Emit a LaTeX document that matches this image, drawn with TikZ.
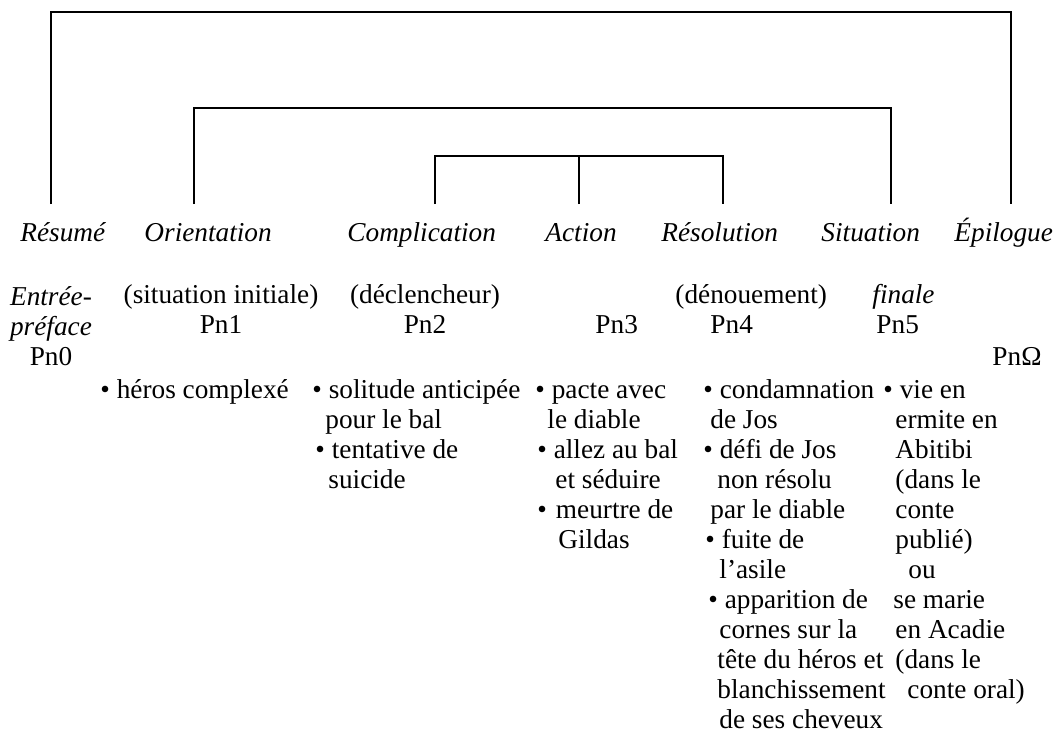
\documentclass[tikz,border=0pt]{standalone}
\usepackage{fontspec}
\setmainfont{Liberation Serif}
\usetikzlibrary{positioning}
\newlength\pxu
\setlength\pxu{0.44pt}

\begin{document}
\begin{tikzpicture}[x=0.44pt,y=-0.44pt,font=\fontsize{12}{13.2}\selectfont,
  lab/.style={inner sep=0pt,anchor=base west,font=\fontsize{12}{13.2}\selectfont\itshape},
  txt/.style={inner sep=0pt,anchor=base west,align=left},
  mid/.style={inner sep=0pt,anchor=base,align=center},
  bar/.style={draw=black,line width=0.75pt}]
\useasboundingbox (0,0) rectangle (1055,740);
\node[lab] (res) at (20,241) {Résumé};
\node[lab] (ori) at (144,241) {Orientation};
\node[lab] (com) at (347,241) {Complication};
\node[lab] (act) at (545,241) {Action};
\node[lab] (sol) at (661,241) {Résolution};
\node[lab] (sit) at (821,241) {Situation};
\node[lab] (epi) at (954,241) {Épilogue};
\coordinate (fres) at (50.7,204);
\coordinate (fori) at (194.3,204);
\coordinate (fcom) at (435,204);
\coordinate (fact) at (578.7,204);
\coordinate (fsol) at (723.3,204);
\coordinate (fsit) at (890.7,204);
\coordinate (fepi) at (1010.7,204);
\coordinate (t1) at (0,12.3);
\coordinate (t2) at (0,108.3);
\coordinate (t3) at (0,156);
\draw[bar] (fres) -- (fres |- t1) -- (fepi |- t1) -- (fepi);
\draw[bar] (fori) -- (fori |- t2) -- (fsit |- t2) -- (fsit);
\draw[bar] (fcom) -- (fcom |- t3) -- (fsol |- t3) -- (fsol);
\draw[bar] (fact) -- (fact |- t3);
\node[mid] (pn0) at (51,365) {\textit{Entrée-}\\\textit{préface}\\Pn0};
\node[mid] (pn1) at (221,333) {(situation initiale)\\Pn1};
\node[mid] (pn2) at (425,333) {(déclencheur)\\Pn2};
\node[txt] (pn3) at (595,333) {Pn3};
\node[txt] (den) at (675,303) {(dénouement)};
\node[txt] (pn4) at (710,333) {Pn4};
\node[txt] (fin) at (872,303) {\textit{finale}};
\node[txt] (pn5) at (876,333) {Pn5};
\node[txt] (pnw) at (992,365) {PnΩ};
\node[txt] (la) at (100,398) {• héros complexé};
\node[txt] (lb) at (312,488) {• solitude anticipée\\
  \hspace*{13\pxu}pour le bal\\
  \hspace*{3\pxu}• tentative de\\
  \hspace*{16\pxu}suicide};
\node[txt] (lc) at (535,548) {• pacte avec\\
  \hspace*{12\pxu}le diable\\
  \hspace*{2\pxu}• allez au bal\\
  \hspace*{20\pxu}et séduire\\
  \hspace*{2\pxu}•\hspace{9\pxu}meurtre de\\
  \hspace*{23\pxu}Gildas};
\node[txt] (ld) at (703,728) {• condamnation\\
  \hspace*{7\pxu}de Jos\\
  • défi de Jos\\
  \hspace*{14\pxu}non résolu\\
  \hspace*{7\pxu}par le diable\\
  \hspace*{2\pxu}• fuite de\\
  \hspace*{16\pxu}l’asile\\
  \hspace*{5\pxu}• apparition de\\
  \hspace*{16\pxu}cornes sur la\\
  \hspace*{14\pxu}tête du héros et\\
  \hspace*{14\pxu}blanchissement\\
  \hspace*{16\pxu}de ses cheveux};
\node[txt] (le) at (883,698) {• vie en\\
  \hspace*{12\pxu}ermite en\\
  \hspace*{12\pxu}Abitibi\\
  \hspace*{12\pxu}(dans le\\
  \hspace*{12\pxu}conte\\
  \hspace*{12\pxu}publié)\\
  \hspace*{25\pxu}ou\\
  \hspace*{10\pxu}se marie\\
  \hspace*{12\pxu}en Acadie\\
  \hspace*{12\pxu}(dans le\\
  \hspace*{24\pxu}conte oral)};
\end{tikzpicture}
\end{document}
